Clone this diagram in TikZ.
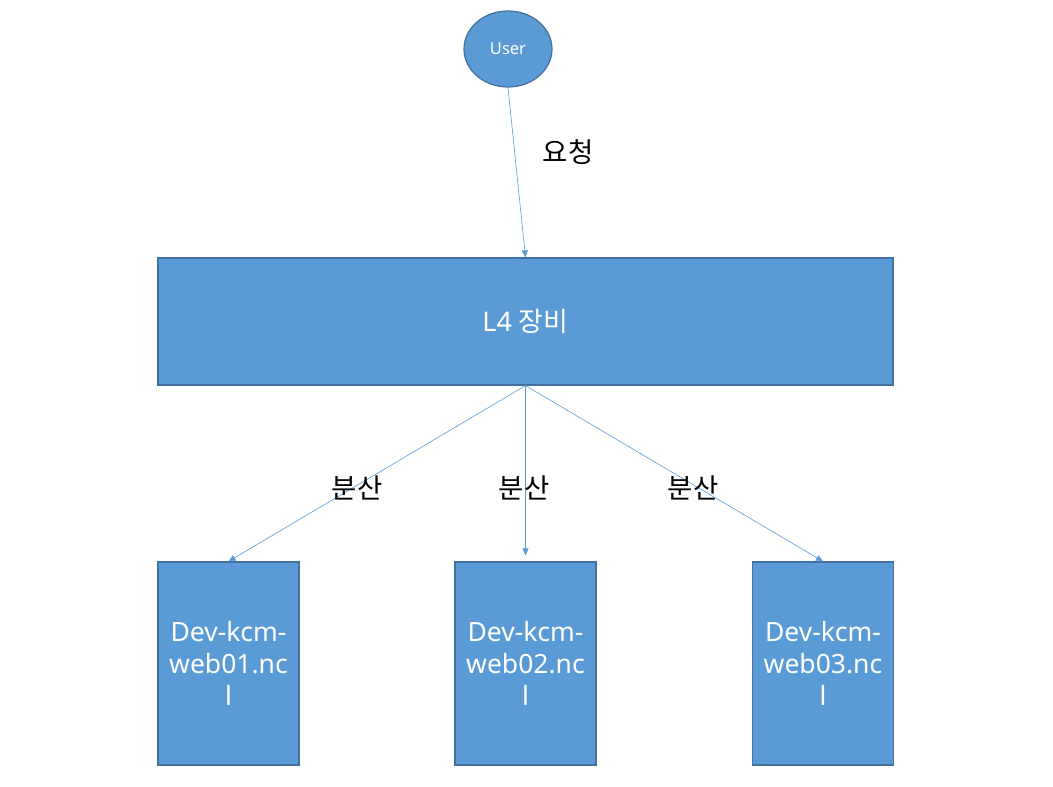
\documentclass[tikz,border=0pt]{standalone}
\usepackage{fontspec}
\setmainfont{Noto Sans}
\newfontfamily\kr{Noto Sans CJK KR}
\usetikzlibrary{arrows.meta,shapes.geometric}
\definecolor{boxfill}{HTML}{5B9BD5}
\definecolor{boxline}{HTML}{41719C}

\begin{document}
\begin{tikzpicture}[x=1pt,y=-1pt,
	blue box/.style={draw=boxline,line width=1.2pt,fill=boxfill,text=white,inner sep=0pt,align=center},
	server/.style={blue box,minimum width=141pt,minimum height=203pt,text width=136pt,font=\fontsize{26.5}{32}\selectfont},
	link/.style={draw=boxfill,line width=0.6pt,-{Triangle[length=7pt,width=6pt]}},
	tag/.style={font=\kr\fontsize{27.5}{30}\selectfont}]
	\useasboundingbox[fill=white] (0,0) rectangle (1053,787);

	\node[blue box,ellipse,minimum width=88pt,minimum height=76pt,font=\fontsize{16.5}{18}\selectfont] (user) at (508,49) {User};
	\node[blue box,minimum width=735pt,minimum height=127pt,font=\fontsize{27}{30}\selectfont] (l4) at (525.5,321.5) {L4 {\kr 장비}};

	\node[server] (web1) at (228.5,663.5) {Dev-kcm-\\web01.nc\\l};
	\node[server] (web2) at (525.5,663.5) {Dev-kcm-\\web02.nc\\l};
	\node[server] (web3) at (823,663.5) {Dev-kcm-\\web03.nc\\l};

	\draw[link] (user.south) -- (l4.north);
	\draw[link] (l4.south) -- (web1.north);
	\draw[link,shorten >=6pt] (l4.south) -- (web2.north);
	\draw[link] (l4.south) -- (web3.north);

	\node[tag] (req) at (568,152) {요청};
	\node[tag] (d1) at (357,488) {분산};
	\node[tag] (d2) at (524,488) {분산};
	\node[tag] (d3) at (693,488) {분산};
\end{tikzpicture}
\end{document}
